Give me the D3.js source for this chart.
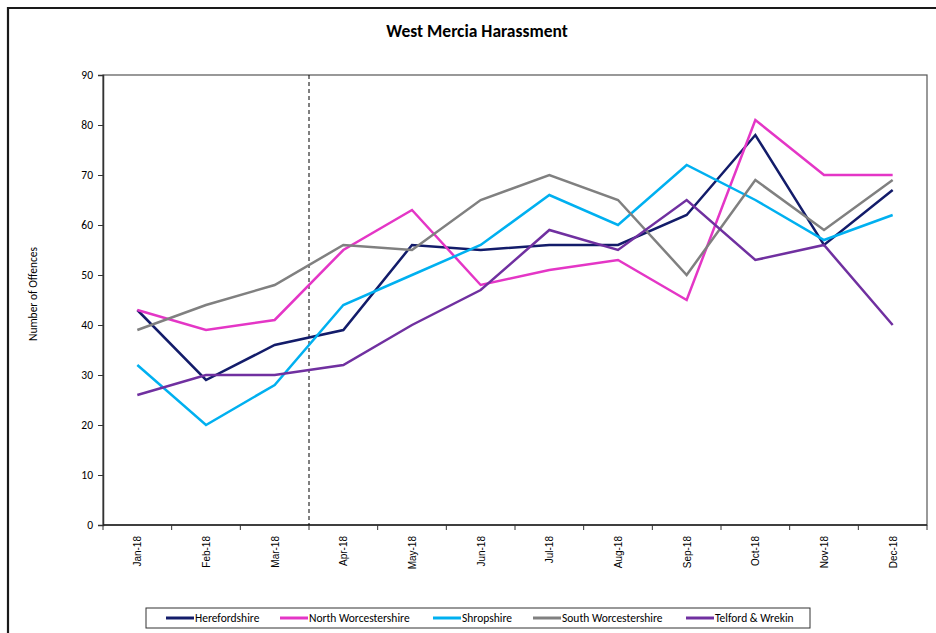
<!DOCTYPE html>
<html>
<head>
<meta charset="utf-8">
<script src="https://cdn.jsdelivr.net/npm/d3@7"></script>
<style>
  body { margin: 0; background: #fff; }
  text { font-family: Calibri, Carlito, Lato, "Open Sans", sans-serif; fill: #000; }
</style>
</head>
<body>
<div id="chart"></div>
<script>
const MONTHS = ["Jan-18", "Feb-18", "Mar-18", "Apr-18", "May-18", "Jun-18",
                "Jul-18", "Aug-18", "Sep-18", "Oct-18", "Nov-18", "Dec-18"];
const HEREFORDSHIRE = [43, 29, 36, 39, 56, 55, 56, 56, 62, 78, 56, 67];
const NORTH_WORCS = [43, 39, 41, 55, 63, 48, 51, 53, 45, 81, 70, 70];
const SHROPSHIRE = [32, 20, 28, 44, 50, 56, 66, 60, 72, 65, 57, 62];
const SOUTH_WORCS = [39, 44, 48, 56, 55, 65, 70, 65, 50, 69, 59, 69];
const TELFORD = [26, 30, 30, 32, 40, 47, 59, 55, 65, 53, 56, 40];
const SERIES_NAMES = ["Herefordshire", "North Worcestershire", "Shropshire", "South Worcestershire", "Telford & Wrekin"];
const Y_TICKS = [0, 10, 20, 30, 40, 50, 60, 70, 80, 90];
const MARKER_MONTH = "Apr-18";   // dashed line sits at the start of this month

const WIDTH = 936;
const HEIGHT = 633;
const PLOT = { left: 103, right: 927, top: 75, bottom: 525 };
const COLORS = ["#131C6A", "#E436C6", "#00B0F0", "#808080", "#7030A0"];

const seriesValues = [HEREFORDSHIRE, NORTH_WORCS, SHROPSHIRE, SOUTH_WORCS, TELFORD];
const series = SERIES_NAMES.map((name, i) => ({ name: name, values: seriesValues[i], color: COLORS[i] }));

const svg = d3.select("#chart").append("svg")
    .attr("width", WIDTH)
    .attr("height", HEIGHT)
    .attr("viewBox", [0, 0, WIDTH, HEIGHT]);

// outer chart frame (runs off the right and bottom edges)
svg.append("path")
    .attr("d", `M 8 ${HEIGHT + 5} L 8 8 L ${WIDTH + 5} 8`)
    .style("fill", "none")
    .style("stroke", "#1a1a1a")
    .style("stroke-width", 2.2);

// title
svg.append("text")
    .text("West Mercia Harassment")
    .attr("x", 477)
    .attr("y", 37)
    .attr("text-anchor", "middle")
    .style("font-size", "17.5px")
    .style("font-weight", "bold");

const x = d3.scaleBand()
    .domain(MONTHS)
    .range([PLOT.left, PLOT.right])
    .padding(0);

const y = d3.scaleLinear()
    .domain([0, 90])
    .range([PLOT.bottom, PLOT.top]);

// plot area box
svg.append("rect")
    .attr("x", PLOT.left)
    .attr("y", PLOT.top)
    .attr("width", PLOT.right - PLOT.left)
    .attr("height", PLOT.bottom - PLOT.top)
    .style("fill", "none")
    .style("stroke", "#555")
    .style("stroke-width", 1.2);

// y axis
const yAxis = svg.append("g")
    .attr("transform", `translate(${PLOT.left},0)`)
    .call(d3.axisLeft(y).tickValues(Y_TICKS).tickSize(5).tickPadding(5));
yAxis.select(".domain").style("stroke", "#333").style("stroke-width", 1.5);
yAxis.selectAll(".tick line").style("stroke", "#333");
yAxis.selectAll(".tick text")
    .style("font-family", "Calibri, Carlito, Lato, sans-serif")
    .style("font-size", "11.5px");

svg.append("text")
    .text("Number of Offences")
    .attr("transform", `translate(37,${(PLOT.top + PLOT.bottom) / 2 - 6}) rotate(-90)`)
    .attr("text-anchor", "middle")
    .style("font-size", "11.5px");

// x axis: ticks between categories
const xg = svg.append("g");
xg.append("line")
    .attr("x1", PLOT.left).attr("x2", PLOT.right)
    .attr("y1", PLOT.bottom).attr("y2", PLOT.bottom)
    .style("stroke", "#222").style("stroke-width", 1.5);
const boundaries = MONTHS.map(m => x(m)).concat([x(MONTHS[MONTHS.length - 1]) + x.bandwidth()]);
boundaries.forEach(function(bx) {
    xg.append("line")
        .attr("x1", bx).attr("x2", bx)
        .attr("y1", PLOT.bottom).attr("y2", PLOT.bottom + 5)
        .style("stroke", "#333");
});
MONTHS.forEach(function(m) {
    xg.append("text")
        .text(m)
        .attr("transform", `translate(${x(m) + x.bandwidth() / 2 + 4},${PLOT.bottom + 11}) rotate(-90)`)
        .attr("text-anchor", "end")
        .style("font-family", "'Liberation Sans', Arial, sans-serif")
        .style("font-size", "10px");
});

// dashed marker line
svg.append("line")
    .attr("x1", x(MARKER_MONTH)).attr("x2", x(MARKER_MONTH))
    .attr("y1", PLOT.top).attr("y2", PLOT.bottom)
    .style("stroke", "#000")
    .style("stroke-width", 1)
    .style("stroke-dasharray", "4,3");

// lines
const line = d3.line()
    .x((d, i) => x(MONTHS[i]) + x.bandwidth() / 2)
    .y(d => y(d));

series.forEach(function(s) {
    svg.append("path")
        .datum(s.values)
        .attr("d", line)
        .style("fill", "none")
        .style("stroke", s.color)
        .style("stroke-width", 2.5)
        .style("stroke-linejoin", "miter");
});

// legend
const legend = svg.append("g");
legend.append("rect")
    .attr("x", 146).attr("y", 608)
    .attr("width", 664).attr("height", 20)
    .style("fill", "#fff")
    .style("stroke", "#333")
    .style("stroke-width", 1);
const LEGEND_X = [166, 280, 433, 533, 686];
series.forEach(function(s, i) {
    legend.append("line")
        .attr("x1", LEGEND_X[i]).attr("x2", LEGEND_X[i] + 28)
        .attr("y1", 618).attr("y2", 618)
        .style("stroke", s.color)
        .style("stroke-width", 3);
    legend.append("text")
        .text(s.name)
        .attr("x", LEGEND_X[i] + 29)
        .attr("y", 622)
        .style("font-size", "11.5px");
});
</script>
</body>
</html>
